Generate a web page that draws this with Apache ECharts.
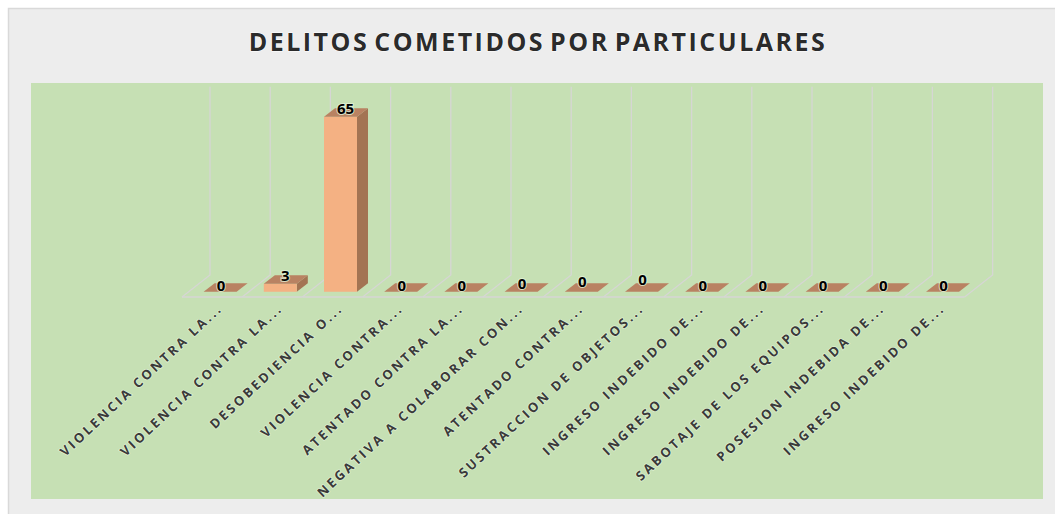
<!DOCTYPE html>
<html><head><meta charset="utf-8">
<style>
html,body{margin:0;padding:0;background:#fff}
#c{width:1055px;height:514px}
svg text[style*="25px"]{letter-spacing:2.5px;word-spacing:-4px}
svg text[style*="13px"]{letter-spacing:2.65px}
</style>
<script src="https://cdn.jsdelivr.net/npm/echarts@6/dist/echarts.min.js"></script>
</head><body><div id="c"></div>
<script>
const chartTitle = 'DELITOS COMETIDOS POR PARTICULARES';
const categories = [
  'VIOLENCIA CONTRA LA...','VIOLENCIA CONTRA LA...','DESOBEDIENCIA O...','VIOLENCIA CONTRA...',
  'ATENTADO CONTRA LA...','NEGATIVA A COLABORAR CON...','ATENTADO CONTRA...','SUSTRACCION DE OBJETOS...',
  'INGRESO INDEBIDO DE...','INGRESO INDEBIDO DE...','SABOTAJE DE LOS EQUIPOS...','POSESION INDEBIDA DE...','INGRESO INDEBIDO DE...'
];
const values = [0,3,65,0,0,0,0,0,0,0,0,0,0];

const FRONT='#F4B183', TOP='#B98262', SIDE='#A37453', WALL='#D6D6D4';
const BAR_W=33, BAR_DX=11, BAR_DY=8.5;
const FLOOR_FRONT={x:-8,y:5.3}, FLOOR_BACK={x:20,y:-16.7};
const GLOW='rgba(228,244,218,0.8)';
const labelFont='"Open Sans"';
const labelLift={5:2,6:4,7:6};

function renderFloor(params,api){
  const i=params.dataIndex, last=categories.length-1;
  const base=api.coord([api.value(0),0]), top=api.coord([api.value(0),70]), band=api.size([1,0])[0];
  const x=base[0]-band/2, y=base[1];
  const style={stroke:WALL,lineWidth:1.3,fill:null};
  const wall=(px)=>({type:'polyline',shape:{points:[
    [px+FLOOR_BACK.x,top[1]+FLOOR_BACK.y],[px+FLOOR_BACK.x,y+FLOOR_BACK.y],[px+FLOOR_FRONT.x,y+FLOOR_FRONT.y]]},style});
  const children=[wall(x),
    {type:'line',shape:{x1:x+FLOOR_FRONT.x,y1:y+FLOOR_FRONT.y,x2:x+band+FLOOR_FRONT.x,y2:y+FLOOR_FRONT.y},style}];
  if(i===last) children.push(wall(x+band));
  return {type:'group',children};
}
function renderBar(params,api){
  const v=api.value(1), i=params.dataIndex;
  const b=api.coord([api.value(0),0]), t=api.coord([api.value(0),v]);
  const l=b[0]-BAR_W/2, r=b[0]+BAR_W/2, by=b[1], ty=t[1];
  const kids=[];
  if(v>0){
    kids.push({type:'polygon',shape:{points:[[r,ty],[r+BAR_DX,ty-BAR_DY],[r+BAR_DX,by-BAR_DY],[r,by]]},style:{fill:SIDE}});
    kids.push({type:'rect',shape:{x:l,y:ty,width:BAR_W,height:by-ty},style:{fill:FRONT}});
  }
  kids.push({type:'polygon',shape:{points:[[l,ty],[r,ty],[r+BAR_DX,ty-BAR_DY],[l+BAR_DX,ty-BAR_DY]]},style:{fill:TOP}});
  kids.push({type:'text',style:{x:b[0]+(v>0?5:1),y:ty-(v>0?9:6.5)-(labelLift[i]||0),text:String(v),
    fill:'#000',font:'bold 15px '+labelFont,align:'center',verticalAlign:'middle',stroke:GLOW,lineWidth:2}});
  return {type:'group',children:kids};
}

const chart=echarts.init(document.getElementById('c'),null,{renderer:'svg',width:1055,height:514});
const seriesData=categories.map((_,i)=>[i,values[i]]);
chart.setOption({
  animation:false,
  backgroundColor:'#fff',
  graphic:[
    {type:'rect',z:-10,silent:true,shape:{x:8.5,y:8.5,width:1050,height:510},style:{fill:'#EDEDED',stroke:'#D9D9D9',lineWidth:1.5}},
    {type:'rect',z:-9,silent:true,shape:{x:31,y:83,width:1012,height:416},style:{fill:'#C6E0B4'}}
  ],
  title:{text:chartTitle,left:533,top:23,textAlign:'center',textStyle:{fontFamily:labelFont,fontWeight:'bold',fontSize:25,color:'#2b2b2b',textBorderColor:'#fff',textBorderWidth:1}},
  grid:{left:190,top:103.4,width:782.6,height:188.3},
  xAxis:{type:'category',data:categories,axisLine:{show:false},axisTick:{show:false},splitLine:{show:false},
    axisLabel:{interval:0,rotate:43,margin:14,fontFamily:labelFont,fontWeight:'bold',fontSize:13,color:'#3a3a3a',textBorderColor:GLOW,textBorderWidth:1.5,hideOverlap:false}},
  yAxis:{type:'value',min:0,max:70,show:false,splitLine:{show:false}},
  series:[
    {type:'custom',name:'floor',renderItem:renderFloor,data:seriesData,z:1,silent:true},
    {type:'custom',name:'DELITOS',renderItem:renderBar,data:seriesData,z:2}
  ]
});
</script></body></html>
